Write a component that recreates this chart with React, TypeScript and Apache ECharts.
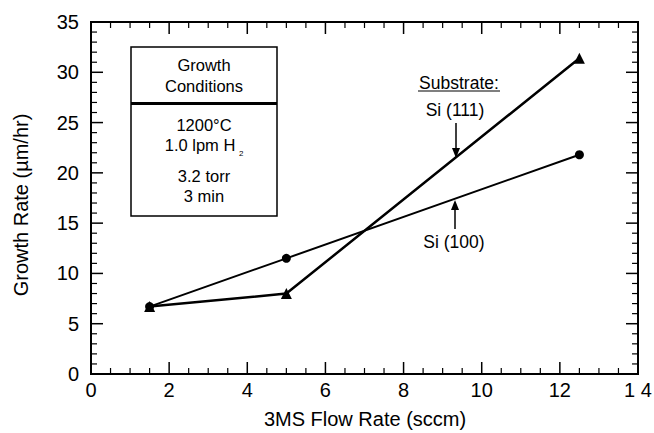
import React, { useEffect, useRef } from "react";
import * as echarts from "echarts";

const flowRate = [1.5, 5, 12.5];
const si111 = [6.7, 8.0, 31.4];
const si100 = [6.7, 11.5, 21.8];
const xTicks = [0, 2, 4, 6, 8, 10, 12, 14];
const yTicks = [0, 5, 10, 15, 20, 25, 30, 35];
const xMinorStep = 0.5;
const yMinorStep = 1;

const FONT = "Liberation Sans, Arial, Helvetica, sans-serif";

export default function App() {
  const ref = useRef<HTMLDivElement>(null);
  useEffect(() => {
    if (!ref.current) return;
    const chart = echarts.init(ref.current, undefined, { renderer: "svg" });
    const xMin = xTicks[0], xMax = xTicks[xTicks.length - 1];
    const yMin = yTicks[0], yMax = yTicks[yTicks.length - 1];
    const mkLine = (w: number) => ({ show: true, onZero: false, lineStyle: { color: "#000", width: w } });
    const labelStyle = { color: "#000", fontSize: 20, fontFamily: FONT };
    const ds1 = flowRate.map((x, i) => [x, si111[i]]);
    const ds2 = flowRate.map((x, i) => [x, si100[i]]);
    const txt = (x: number, y: number, text: string, size = 16.5) => ({
      type: "text", x, y,
      style: { text, fontSize: size, fontFamily: FONT, fill: "#000", align: "center", verticalAlign: "middle" },
    });
    const annotations: any[] = [
      txt(365, 419, "3MS Flow Rate (sccm)", 20),
      { type: "text", x: 21, y: 205, rotation: Math.PI / 2,
        style: { text: "Growth Rate (µm/hr)", fontSize: 20, fontFamily: FONT, fill: "#000", align: "center", verticalAlign: "middle" } },
      { type: "rect", shape: { x: 131, y: 47, width: 146, height: 169 }, style: { fill: "#fff", stroke: "#000", lineWidth: 1.5 } },
      { type: "line", shape: { x1: 131, y1: 103.5, x2: 277, y2: 103.5 }, style: { stroke: "#000", lineWidth: 3 } },
      txt(204, 65, "Growth"),
      txt(204, 86, "Conditions"),
      txt(204, 125, "1200°C"),
      txt(200, 145, "1.0 lpm H"),
      { type: "text", x: 239, y: 153, style: { text: "2", fontSize: 8, fontFamily: FONT, fill: "#000", align: "left", verticalAlign: "middle" } },
      txt(204, 176, "3.2 torr"),
      txt(204, 196, "3 min"),
      txt(459, 83, "Substrate:", 17.5),
      { type: "line", shape: { x1: 418, y1: 91, x2: 500, y2: 91 }, style: { stroke: "#000", lineWidth: 1.2 } },
      txt(455, 110, "Si (111)", 17.5),
      { type: "line", shape: { x1: 456, y1: 123, x2: 456, y2: 150 }, style: { stroke: "#000", lineWidth: 1.5 } },
      { type: "polygon", shape: { points: [[452, 148], [460, 148], [456, 158]] }, style: { fill: "#000" } },
      txt(454, 242, "Si (100)", 17.5),
      { type: "line", shape: { x1: 455, y1: 229, x2: 455, y2: 208 }, style: { stroke: "#000", lineWidth: 1.5 } },
      { type: "polygon", shape: { points: [[451, 210], [459, 210], [455, 200]] }, style: { fill: "#000" } },
    ];
    chart.setOption({
      animation: false,
      backgroundColor: "#fff",
      grid: {
        left: 91, top: 22, right: 16, bottom: 59, containLabel: false, outerBoundsMode: "none",
        show: true, borderColor: "#000", borderWidth: 2, backgroundColor: "transparent",
      },
      xAxis: [
        {
          type: "value", min: xMin, max: xMax, interval: 2, position: "bottom",
          axisLine: mkLine(2), axisTick: { show: false }, minorTick: { show: false },
          splitLine: { show: false },
          axisLabel: { ...labelStyle, margin: 6, formatter: (v: number) => (v === 14 ? "1 4" : String(v)) },
        },
      ],
      yAxis: [
        {
          type: "value", min: yMin, max: yMax, interval: 5, position: "left",
          axisLine: mkLine(2), axisTick: { show: false }, minorTick: { show: false },
          splitLine: { show: false },
          axisLabel: { ...labelStyle, margin: 12 },
        },
      ],
      series: [
        {
          name: "Si (111)", type: "line", data: ds1, symbol: "triangle", symbolSize: 11,
          lineStyle: { color: "#000", width: 2.5 }, itemStyle: { color: "#000" },
        },
        {
          name: "Si (100)", type: "line", data: ds2, symbol: "circle", symbolSize: 9,
          lineStyle: { color: "#000", width: 2 }, itemStyle: { color: "#000" },
        },
      ],
    });
    // ticks on all four sides, positioned through the grid's own scales
    const ticks: any[] = [];
    const px = (x: number, y: number) => chart.convertToPixel({ gridIndex: 0 } as any, [x, y]) as number[];
    for (let v = xMin; v <= xMax + 1e-9; v += xMinorStep) {
      const major = xTicks.some((t) => Math.abs(t - v) < 1e-9);
      const len = major ? 12 : 6;
      const style = { stroke: "#000", lineWidth: major ? 1.5 : 1.2 };
      const pb = px(v, yMin);
      const pt = px(v, yMax);
      ticks.push({ type: "line", z: 5, shape: { x1: pb[0], y1: pb[1], x2: pb[0], y2: pb[1] - len }, style });
      ticks.push({ type: "line", z: 5, shape: { x1: pt[0], y1: pt[1], x2: pt[0], y2: pt[1] + len }, style });
    }
    for (let v = yMin; v <= yMax + 1e-9; v += yMinorStep) {
      const major = yTicks.some((t) => Math.abs(t - v) < 1e-9);
      const len = major ? 12 : 6;
      const style = { stroke: "#000", lineWidth: major ? 1.5 : 1.2 };
      const pl = px(xMin, v);
      const pr = px(xMax, v);
      ticks.push({ type: "line", z: 5, shape: { x1: pl[0], y1: pl[1], x2: pl[0] + len, y2: pl[1] }, style });
      ticks.push({ type: "line", z: 5, shape: { x1: pr[0], y1: pr[1], x2: pr[0] - len, y2: pr[1] }, style });
    }
    chart.setOption({ graphic: [...annotations, ...ticks] });
    return () => chart.dispose();
  }, []);
  return <div ref={ref} style={{ width: 654, height: 433, position: "absolute", left: 0, top: 0 }} />;
}
